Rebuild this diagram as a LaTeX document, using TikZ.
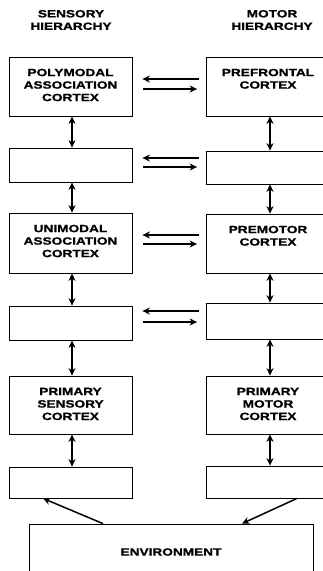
\documentclass[tikz,border=0pt]{standalone}
\usepackage{fontspec}
\setmainfont{Liberation Sans}[FakeStretch=1.3, BoldFeatures={FakeBold=1.2}]
\usepackage{tikz}
\usetikzlibrary{arrows.meta}

\begin{document}
\begin{tikzpicture}[x=1pt,y=-1pt,
	every node/.style={font=\fontsize{10.5}{12.5}\selectfont\bfseries},
	area/.style={draw, line width=0.8pt, inner sep=0pt, minimum width=123pt},
	txt/.style={anchor=north, inner sep=0pt, align=center, yshift=-12pt},
	flow/.style={line width=1.5pt, -{Stealth[length=7.5pt,width=7pt]}},
	both/.style={line width=1.5pt, {Stealth[length=7.5pt,width=7pt]}-{Stealth[length=7.5pt,width=7pt]}}]
		\useasboundingbox (0,0) rectangle (323,571);
		\clip (0,0) rectangle (323,571);
		% Column titles
		\node[align=center] (sens) at (71,20) {SENSORY\\HIERARCHY};
		\node[align=center] (mot) at (272,20) {MOTOR\\HIERARCHY};
		% Sensory column
		\node[area, minimum height=59pt, label={[txt]north:POLYMODAL\\ASSOCIATION\\CORTEX}] (L1) at (70.5,86.5) {};
		\node[area, minimum height=34pt] (L2) at (70.5,165) {};
		\node[area, minimum height=60pt, label={[txt]north:UNIMODAL\\ASSOCIATION\\CORTEX}] (L3) at (70.5,243) {};
		\node[area, minimum height=34pt] (L4) at (70.5,323) {};
		\node[area, minimum height=58pt, label={[txt]north:PRIMARY\\SENSORY\\CORTEX}] (L5) at (70.5,405) {};
		\node[area, minimum height=31pt] (L6) at (70.5,482.5) {};
		% Motor column
		\node[area, minimum height=59pt, label={[txt]north:PREFRONTAL\\CORTEX}] (R1) at (268,86.5) {};
		\node[area, minimum height=33pt] (R2) at (268,167.5) {};
		\node[area, minimum height=59pt, label={[txt]north:PREMOTOR\\CORTEX}] (R3) at (268,243.5) {};
		\node[area, minimum height=36pt] (R4) at (268,321) {};
		\node[area, minimum height=58pt, label={[txt]north:PRIMARY\\MOTOR\\CORTEX}] (R5) at (268,405) {};
		\node[area, minimum height=32pt] (R6) at (268,482) {};
		% Environment
		\node[area, minimum width=284pt, minimum height=56pt] (env) at (171,552) {ENVIRONMENT};
		% Up and down the columns
		\draw[both] ([xshift=1.5pt]L1.south) -- ([xshift=1.5pt]L2.north);
		\draw[both] ([xshift=1.5pt]L2.south) -- ([xshift=1.5pt]L3.north);
		\draw[both] ([xshift=1.5pt]L3.south) -- ([xshift=1.5pt]L4.north);
		\draw[both] ([xshift=1.5pt]L4.south) -- ([xshift=1.5pt]L5.north);
		\draw[both] ([xshift=1.5pt]L5.south) -- ([xshift=1.5pt]L6.north);
		\draw[both] ([xshift=2pt]R1.south) -- ([xshift=2pt]R2.north);
		\draw[both] ([xshift=2pt]R2.south) -- ([xshift=2pt]R3.north);
		\draw[both] ([xshift=2pt]R3.south) -- ([xshift=2pt]R4.north);
		\draw[both] ([xshift=2pt]R4.south) -- ([xshift=2pt]R5.north);
		\draw[both] ([xshift=2pt]R5.south) -- ([xshift=2pt]R6.north);
		% Across the columns
		\draw[flow, shorten <=7pt, shorten >=10pt] (R1.west |- 0,79) -- (L1.east |- 0,79);
		\draw[flow, shorten <=11pt, shorten >=9pt] (L1.east |- 0,89) -- (R1.west |- 0,89);
		\draw[flow, shorten <=7pt, shorten >=10pt] (R2.west |- 0,158) -- (L2.east |- 0,158);
		\draw[flow, shorten <=11pt, shorten >=9pt] (L2.east |- 0,167) -- (R2.west |- 0,167);
		\draw[flow, shorten <=7pt, shorten >=10pt] (R3.west |- 0,235) -- (L3.east |- 0,235);
		\draw[flow, shorten <=11pt, shorten >=9pt] (L3.east |- 0,244) -- (R3.west |- 0,244);
		\draw[flow, shorten <=7pt, shorten >=10pt] (R4.west |- 0,311) -- (L4.east |- 0,311);
		\draw[flow, shorten <=11pt, shorten >=9pt] (L4.east |- 0,322) -- (R4.west |- 0,322);
		% To and from the environment
		\draw[flow] ([xshift=-68pt]env.north) -- ([xshift=-27.5pt]L6.south);
		\draw[flow] ([xshift=29pt]R6.south) -- ([xshift=71pt]env.north);
	\end{tikzpicture}
\end{document}
